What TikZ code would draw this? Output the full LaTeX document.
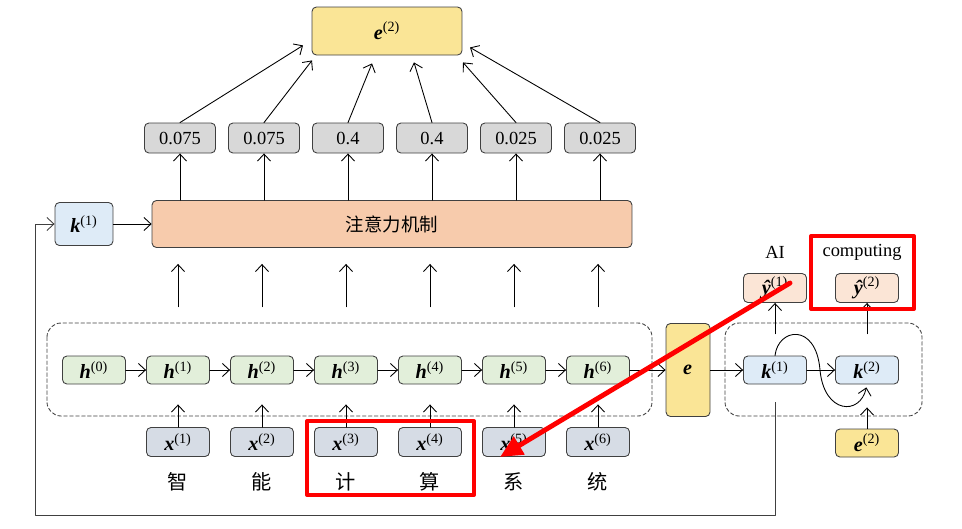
\documentclass[tikz,border=0pt]{standalone}
\usepackage{fontspec}
\setmainfont{Liberation Serif}
\newfontfamily\cjk{Noto Sans CJK SC}
\usetikzlibrary{arrows.meta}
\definecolor{eyellow}{RGB}{250,229,150}
\definecolor{wgrey}{RGB}{216,216,216}
\definecolor{apeach}{RGB}{247,203,172}
\definecolor{kblue}{RGB}{222,235,247}
\definecolor{hgreen}{RGB}{226,239,218}
\definecolor{xgrey}{RGB}{214,220,229}
\definecolor{ypeach}{RGB}{251,229,214}
\definecolor{edge}{RGB}{64,64,64}
\newcommand\vb[2]{{\fontsize{11.5}{13}\selectfont\textbf{\textit{#1}}\textsuperscript{#2}}}
\tikzset{
  cell/.style={draw=edge, line width=0.5pt, rounded corners=2.5pt, inner sep=1pt, minimum width=1.26cm, minimum height=0.56cm},
  hcell/.style={cell, fill=hgreen},
  xcell/.style={cell, fill=xgrey, minimum height=0.58cm},
  kcell/.style={cell, fill=kblue},
  ycell/.style={cell, fill=ypeach, minimum height=0.58cm},
  ecell/.style={cell, fill=eyellow},
  wcell/.style={cell, fill=wgrey, minimum width=1.42cm, minimum height=0.6cm},
  redmark/.style={draw=red, line width=2.3pt}
}
\begin{document}
\begin{tikzpicture}[x=0.02cm, y=-0.02cm, line cap=round, line join=round, >={Straight Barb[length=1.4mm,width=2.6mm]}, font=\fontsize{10.5}{12}\selectfont, line width=0.5pt]
\useasboundingbox (0,0) rectangle (962,528);
% attention part
\node[ecell, minimum width=3cm, minimum height=0.96cm] (e2) at (387,31) {\vb{e}{(2)}};
\foreach \i/\w in {1/0.075,2/0.075,3/0.4,4/0.4,5/0.025,6/0.025}
  \node[wcell] (w\i) at (96+84*\i,138) {\w};
\node[cell, fill=apeach, minimum width=9.6cm, minimum height=0.94cm] (att) at (392,224) {\cjk 注意力机制};
\node[kcell, minimum width=1.16cm, minimum height=0.86cm] (k0) at (84,224) {\vb{k}{(1)}};
\foreach \i/\dx/\dy in {1/-84/-10,2/-75/5,3/-15/8,4/27/7,5/76/7,6/83/-8}
  \draw[->] (w\i.north) -- ([shift={(\dx,\dy)}]e2.south);
\foreach \i in {1,...,6}
  \draw[->] (att.north -| w\i.south) -- (w\i.south);
\draw[->] (k0) -- (att);
% encoder
\draw[dashed, dash pattern=on 2pt off 1.4pt, rounded corners=8pt, draw=edge] (47,323) rectangle (652,416);
\foreach \i in {0,...,6}
  \node[hcell] (h\i) at (94+84*\i,370) {\vb{h}{(\i)}};
\foreach \i/\c in {1/智,2/能,3/计,4/算,5/系,6/统} {
  \node[xcell] (x\i) at (94+84*\i,442) {\vb{x}{(\i)}};
  \node (c\i) at (94+84*\i,482) {\cjk\fontsize{11.5}{13}\selectfont \c};
  \draw[->, shorten >=0.4cm] (x\i) -- (h\i);
  \draw[->, shorten <=0.98cm, shorten >=0.32cm] (h\i.north) -- (h\i.north |- att.south);
}
\foreach \i [count=\j from 0] in {1,...,6}
  \draw[->] (h\j) -- (h\i);
\node[ecell, minimum width=0.88cm, minimum height=1.86cm] (e) at (688,370) {\vb{e}{}};
\draw[->] (h6) -- (e);
% decoder
\draw[dashed, dash pattern=on 2pt off 1.4pt, rounded corners=8pt, draw=edge] (725,323) rectangle (922,416);
\node[kcell] (k1) at (775,370) {\vb{k}{(1)}};
\node[kcell] (k2) at (867,370) {\vb{k}{(2)}};
\node[ycell] (y1) at (775,288) {\vb{ŷ}{(1)}};
\node[ycell] (y2) at (867,288) {\vb{ŷ}{(2)}};
\node[ecell] (e2s) at (867,443) {\vb{e}{(2)}};
\node (ai) at (775,252) {AI};
\node (comp) at (862,252) {computing};
\draw[->] (e) -- (k1);
\draw[->] (k1) -- (k2);
\draw[->, shorten <=0.44cm] (k1.north) -- (y1.south);
\draw[->, shorten <=0.44cm] (k2.north) -- (y2.south);
\draw[->, shorten >=0.46cm] (e2s.north) -- (k2.south);
\draw[->, shorten >=0.06cm] (k1.north) .. controls (778,328) and (816,322) .. (820,370) .. controls (824,414) and (860,416) .. (k2.south);
% feedback
\coordinate (fb) at (35,515);
\draw[->, draw=edge, shorten <=0.36cm] (k1.south) -- (k1.south |- fb) -- (fb) |- (k0.west);
% red marks
\draw[redmark] (307,421) rectangle (474,495);
\draw[redmark] (811,236) rectangle (914,309);
\draw[red, line width=2.8pt, -{Triangle[length=4.5mm,width=4mm]}] (790,283) -- (500,457);
\end{tikzpicture}
\end{document}
